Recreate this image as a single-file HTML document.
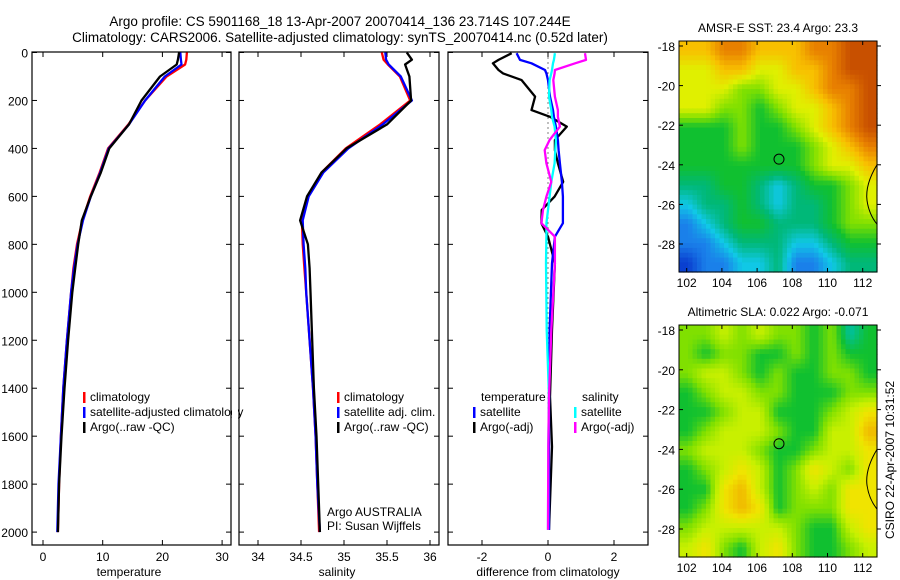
<!DOCTYPE html>
<html><head><meta charset="utf-8"><style>
body{margin:0;background:#fff;}
svg{display:block;font-family:"Liberation Sans",sans-serif;}
text{font-size:12px;fill:#000;}
</style></head><body>
<svg id="fig" width="900" height="580" xmlns="http://www.w3.org/2000/svg">
<text x="340" y="26" text-anchor="middle" style="font-size:13.5px">Argo profile: CS 5901168_18 13-Apr-2007 20070414_136 23.714S 107.244E</text>
<text x="340" y="42" text-anchor="middle" style="font-size:13.5px">Climatology: CARS2006. Satellite-adjusted climatology: synTS_20070414.nc (0.52d later)</text>
<g id="maps"></g>
<g id="panels"></g>
<text transform="translate(894,460) rotate(-90)" text-anchor="middle">CSIRO 22-Apr-2007 10:31:52</text>
</svg>
<script>
// ---- data ----
const depthT = [0,30,50,100,200,300,400,500,600,700,800,900,1000,1200,1400,1600,1800,2000];
const tempClim = [24.1,24.0,23.8,20.7,17.1,14.3,10.9,9.5,7.9,6.6,5.7,5.1,4.7,4.0,3.4,3.0,2.7,2.5];
const tempSat  = [23.0,23.1,23.2,20.4,17.1,14.4,11.0,9.6,8.0,6.7,5.8,5.2,4.7,4.0,3.4,3.0,2.6,2.4];
const tempArgo = [22.8,22.6,22.4,19.6,16.5,14.4,11.1,9.7,8.0,6.5,5.9,5.4,4.9,4.2,3.6,3.1,2.7,2.5];
const salClim = [35.44,35.46,35.51,35.65,35.77,35.42,35.02,34.74,34.58,34.51,34.52,34.54,34.56,34.60,34.64,34.67,34.69,34.71];
const salSat  = [35.48,35.49,35.52,35.66,35.79,35.45,35.05,34.76,34.59,34.52,34.53,34.55,34.56,34.60,34.64,34.67,34.69,34.72];
const salArgo = [35.73,35.79,35.71,35.76,35.78,35.50,35.03,34.74,34.57,34.49,34.58,34.60,34.61,34.63,34.65,34.68,34.70,34.72];
const depthD = [3,31,45,73,87,115,184,240,268,309,365,407,462,539,601,657,712,768,879,1157,1435,1644,1991];
const diffTArgo = [-1.1,-1.5,-1.67,-1.5,-1.36,-0.8,-0.39,-0.5,0.06,0.57,0.21,0.21,0.3,0.46,0.2,-0.19,-0.2,0.0,0.21,0.12,0.06,0.12,0.03];
const diffTSat  = [-0.95,-0.85,-0.5,-0.09,-0.05,0.0,0.06,0.15,0.18,0.24,0.3,0.32,0.36,0.42,0.45,0.45,0.45,0.21,0.12,0.05,0.03,0.03,0.03];
const diffSSat  = [0.21,0.18,0.15,0.12,0.1,0.05,0.03,0.1,0.12,0.2,0.24,0.22,0.2,0.1,0.05,0.0,-0.05,-0.05,-0.06,-0.04,0.03,0.01,0.0];
const diffSArgo = [1.12,1.15,0.82,0.21,0.2,0.16,0.21,0.3,0.3,0.36,0.05,-0.1,-0.05,0.1,-0.05,-0.15,-0.2,0.21,0.21,0.1,0.03,0.01,0.0];
const depthTicks = [0,200,400,600,800,1000,1200,1400,1600,1800,2000];
const tempTicks = [0,10,20,30];
const salTicks = ["34","34.5","35","35.5","36"];
const diffTicks = [-2,0,2];
const lonTicks = [102,104,106,108,110,112];
const latTicks = [-18,-20,-22,-24,-26,-28];
const sstGrid = [
[7,7,8,8,7,7,7,8,8,9,9],[6,6,7,7,6,6,7,7,8,9,9],[6,6,6,5,5,6,6,7,8,8,9],[6,6,5,5,4,5,6,6,7,8,9],
[4,4,4,5,4,4,5,6,7,8,9],[4,4,4,5,4,4,4,5,6,7,8],[4,4,4,4,4,4,4,5,6,6,7],[3,3,4,4,3,2,3,4,4,5,6],
[2,3,3,4,3,2,3,3,4,5,6],[1,2,3,4,4,3,3,3,4,5,5],[1,1,2,3,3,3,2,2,3,4,4],[0,1,1,2,2,3,1,1,2,3,3]];
const slaGrid = [
[2,2,3,2,3,2,2,1,2,0,1],[2,1,2,2,1,1,2,1,2,1,1],[2,3,3,2,1,2,1,1,2,2,1],[1,2,3,3,2,2,1,1,1,2,2],
[1,1,2,3,3,1,1,1,2,3,4],[1,2,3,3,3,2,1,1,3,3,5],[2,3,3,3,2,1,1,2,3,3,4],[1,2,3,4,3,1,2,4,3,2,4],
[1,1,4,5,3,1,2,3,2,4,4],[1,2,4,5,4,1,2,2,2,4,4],[2,3,3,3,3,3,2,1,1,3,4],[3,4,2,1,3,4,2,1,1,2,3]];
const argoLon = 107.244, argoLat = -23.714;

// ---- helpers ----
const NS="http://www.w3.org/2000/svg";
function mk(tag,parent,attrs){const e=document.createElementNS(NS,tag);for(const k in attrs)e.setAttribute(k,attrs[k]);parent.appendChild(e);return e;}
const yD = d => 52.5 + d*0.2398;
const P = document.getElementById('panels');
const M = document.getElementById('maps');
const TOP=52, BOT=545;

function frame(x0,x1,name){
  const r=mk('rect',P,{x:x0,y:TOP,width:x1-x0,height:BOT-TOP,fill:'none',stroke:'#000','stroke-width':1.2});
  
  
  depthTicks.forEach(d=>{mk('line',P,{x1:x0,x2:x0+5,y1:yD(d),y2:yD(d),stroke:'#000'});mk('line',P,{x1:x1,x2:x1-5,y1:yD(d),y2:yD(d),stroke:'#000'});});
}
function xticks(vals,fx,labels){
  vals.forEach((v,i)=>{const x=fx(v);mk('line',P,{x1:x,x2:x,y1:BOT,y2:BOT-5,stroke:'#000'});mk('line',P,{x1:x,x2:x,y1:TOP,y2:TOP+5,stroke:'#000'});
    const t=mk('text',P,{x:x,y:561,'text-anchor':'middle'});t.textContent=labels?labels[i]:v;
    
    });
}
function series(xs,ds,fx,color,name,w){
  const pts=xs.map((v,i)=>fx(v).toFixed(1)+','+yD(ds[i]).toFixed(1)).join(' ');
  const l=mk('polyline',P,{points:pts,fill:'none',stroke:color,'stroke-width':w||2.3,'stroke-linejoin':'round'});
  
  
}
function legend(x,y,color,label,name){
  mk('rect',P,{x:x,y:y-9,width:2.5,height:11,fill:color});
  const t=mk('text',P,{x:x+7,y:y});t.textContent=label;
  
  
}
function text(x,y,s,name,anchor){const t=mk('text',P,{x:x,y:y,'text-anchor':anchor||'start'});t.textContent=s;
  
  return t;}

// Panel 1 temperature
const xT=v=>43+v*5.97;
frame(32,231,'temperature-panel');
depthTicks.forEach(d=>{const t=text(28,yD(d)+5,d,'y-tick-label','end');});
xticks(tempTicks,xT);
series(tempClim,depthT,xT,'#f00','temperature-climatology-line');
series(tempSat,depthT,xT,'#00f','temperature-satellite-line');
series(tempArgo,depthT,xT,'#000','temperature-argo-line');
text(129,576,'temperature','x-axis-title-temperature','middle');
legend(83,401,'#f00','climatology','legend-climatology');
legend(83,416,'#00f','satellite-adjusted climatology','legend-satellite-adjusted');
legend(83,431,'#000','Argo(..raw -QC)','legend-argo');
mk('rect',P,{x:232,y:380,width:6,height:60,fill:'#fff'});

// Panel 2 salinity
const xS=v=>258+(v-34)*86;
frame(239,439,'salinity-panel');
xticks(salTicks.map(Number),xS,salTicks);
series(salClim,depthT,xS,'#f00','salinity-climatology-line');
series(salSat,depthT,xS,'#00f','salinity-satellite-line');
series(salArgo,depthT,xS,'#000','salinity-argo-line');
text(337,576,'salinity','x-axis-title-salinity','middle');
legend(337,401,'#f00','climatology','legend-climatology-2');
legend(337,416,'#00f','satellite adj. clim.','legend-satellite-adj-2');
legend(337,431,'#000','Argo(..raw -QC)','legend-argo-2');
text(327,516,'Argo AUSTRALIA','float-country');
text(327,530,'PI: Susan Wijffels','float-pi');

// Panel 3 differences
const xDf=v=>548+v*33;
frame(448,648,'difference-panel');
xticks(diffTicks,xDf);
mk('line',P,{x1:xDf(0),x2:xDf(0),y1:yD(0),y2:yD(2000),stroke:'#000','stroke-dasharray':'1,4'});
series(diffTArgo,depthD,xDf,'#000','diff-temperature-argo-line');
series(diffTSat,depthD,xDf,'#00f','diff-temperature-satellite-line');
series(diffSSat,depthD,xDf,'#0ff','diff-salinity-satellite-line');
series(diffSArgo,depthD,xDf,'#f0f','diff-salinity-argo-line');
text(548,576,'difference from climatology','x-axis-title-difference','middle');
text(481,401,'temperature','legend-temperature-header');
legend(473,416,'#00f','satellite','legend-temp-satellite');
legend(473,431,'#000','Argo(-adj)','legend-temp-argo');
text(582,401,'salinity','legend-salinity-header');
legend(574,416,'#0ff','satellite','legend-sal-satellite');
legend(574,431,'#f0f','Argo(-adj)','legend-sal-argo');

// Maps
const sstCols=[[10,64,208],[26,128,234],[16,200,230],[0,184,120],[16,192,48],[128,224,0],[224,240,0],[248,192,0],[232,128,0],[200,80,0]];
const slaCols=[[0,192,160],[16,192,48],[128,224,0],[200,240,0],[240,228,0],[240,184,0]];
function colorAt(cols,v){const i=Math.max(0,Math.min(cols.length-1.001,v));const a=Math.floor(i),f=i-a;const b=Math.min(a+1,cols.length-1);
  return 'rgb('+[0,1,2].map(k=>Math.round(cols[a][k]*(1-f)+cols[b][k]*f)).join(',')+')';}
function sample(grid,r,c){const nR=grid.length,nC=grid[0].length;
  r=Math.max(0,Math.min(nR-1,r));c=Math.max(0,Math.min(nC-1,c));
  const r0=Math.floor(r),c0=Math.floor(c),r1=Math.min(r0+1,nR-1),c1=Math.min(c0+1,nC-1),fr=r-r0,fc=c-c0;
  return grid[r0][c0]*(1-fr)*(1-fc)+grid[r0][c1]*(1-fr)*fc+grid[r1][c0]*fr*(1-fc)+grid[r1][c1]*fr*fc;}
function map(y0,y1,grid,cols,title,name){
  const x0=679,x1=877;
  const lx=lon=>686.7+(lon-102)*17.6;
  const ly=lat=>(y0+5)+(-18-lat)*((y1-y0-33)/10);
  const g=mk('g',M,{});
  
  
  const nR=grid.length,nC=grid[0].length,S=4;
  const cw=(x1-x0)/(nC*S),ch=(y1-y0)/(nR*S);
  for(let r=0;r<nR*S;r++)for(let c=0;c<nC*S;c++){
    const v=sample(grid,(r+0.5)/S-0.5,(c+0.5)/S-0.5);
    const cell=mk('rect',g,{x:(x0+c*cw).toFixed(1),y:(y0+r*ch).toFixed(1),width:(cw+0.6).toFixed(1),height:(ch+0.6).toFixed(1),fill:colorAt(cols,v)});
    
    
  }
  mk('rect',g,{x:x0,y:y0,width:x1-x0,height:y1-y0,fill:'none',stroke:'#000'});
  lonTicks.forEach(l=>{const x=lx(l);mk('line',g,{x1:x,x2:x,y1:y0,y2:y0+4,stroke:'#000'});mk('line',g,{x1:x,x2:x,y1:y1,y2:y1-4,stroke:'#000'});
    const t=mk('text',g,{x:x,y:y1+15,'text-anchor':'middle'});t.textContent=l;
    
    });
  latTicks.forEach(l=>{const y=ly(l);mk('line',g,{x1:x0,x2:x0+4,y1:y,y2:y,stroke:'#000'});mk('line',g,{x1:x1,x2:x1+4,y1:y,y2:y,stroke:'#000'});
    const t=mk('text',g,{x:675,y:y+5,'text-anchor':'end'});t.textContent=l;
    
    });
  const c=mk('circle',g,{cx:lx(argoLon),cy:ly(argoLat),r:5,fill:'none',stroke:'#000'});
  
  
  mk('path',g,{d:`M${x1} ${ly(-24)} Q${x1-12} ${ly(-25)} ${x1-10} ${ly(-25.8)} Q${x1-8} ${ly(-26.5)} ${x1} ${ly(-27)}`,fill:'none',stroke:'#000'});
  const t=mk('text',g,{x:778,y:y0-9,'text-anchor':'middle'});t.textContent=title;
  
  
}
map(41,272,sstGrid,sstCols,'AMSR-E SST: 23.4  Argo: 23.3','sst-map');
map(325,557,slaGrid,slaCols,'Altimetric SLA: 0.022  Argo: -0.071','sla-map');
</script>
</body></html>
